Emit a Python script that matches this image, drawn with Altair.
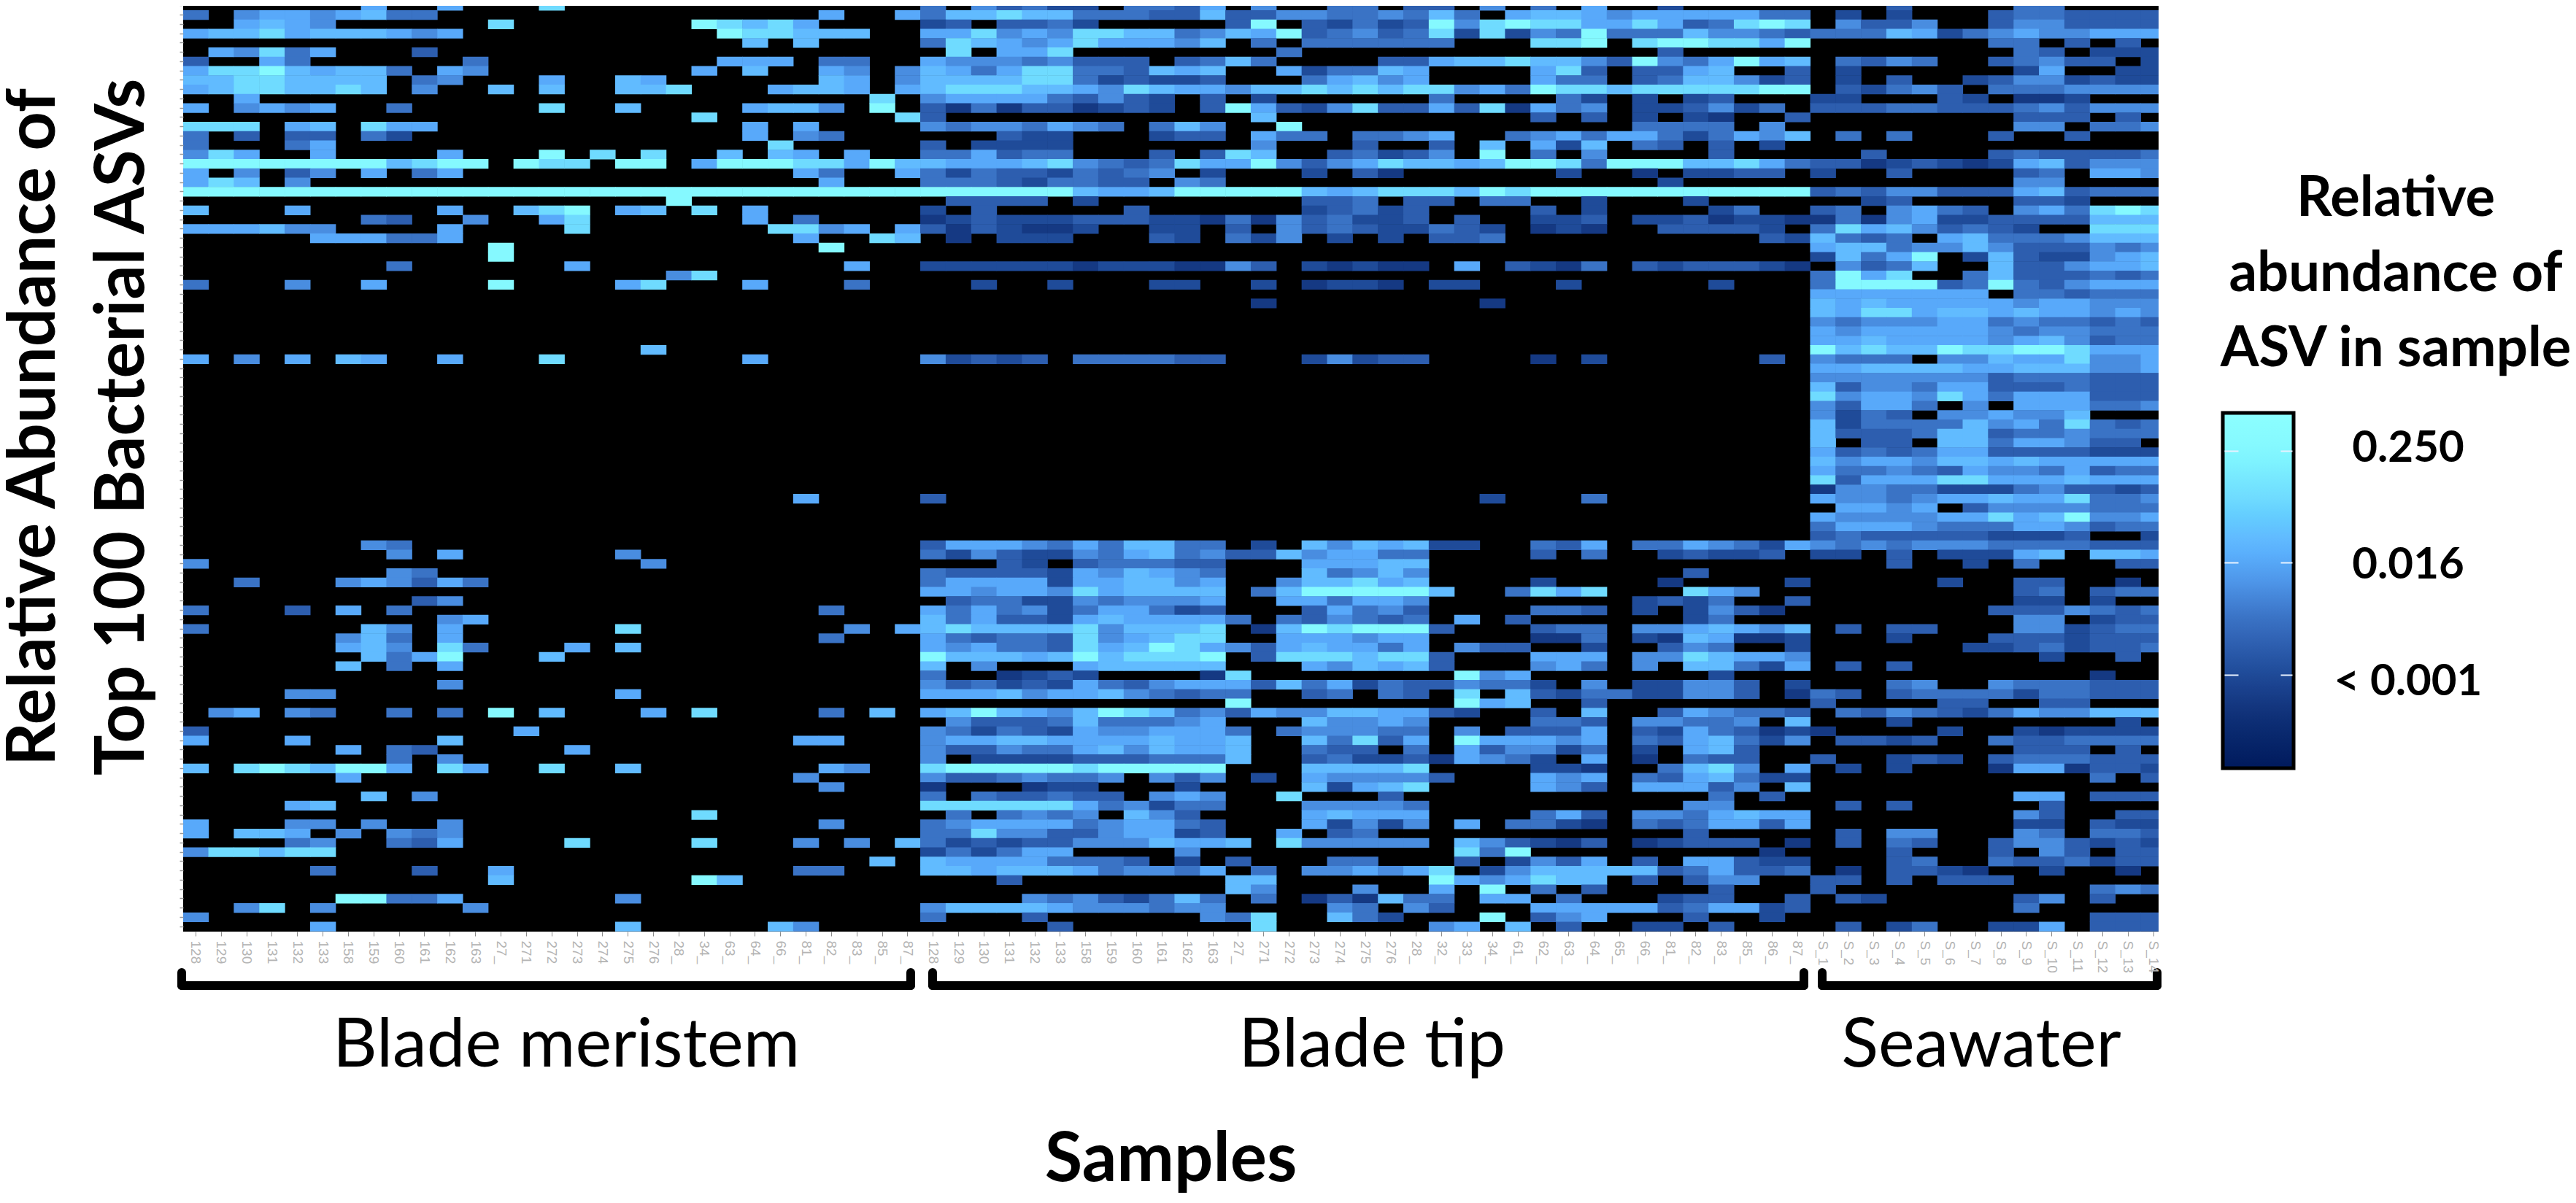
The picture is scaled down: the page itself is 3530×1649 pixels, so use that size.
import altair as alt
import pandas as pd

# Brightness class of every cell: 0 = not detected (black), 1 darkest .. 9 brightest.
# Four column blocks (20, 20, 20, 18 samples), each split into rows 0-49 and 50-99.
A_TOP = [
"00000006006000800000","40566567440000000000","00676500000080000000","67786777656000000000","",
"06584600030000000000","30064000000400000000","68897677406500000000","77887777045000600760","67887787050070700778",
"00600000000000000000","60565600400000800700","","88806708660000000000","40303304200000000000",
"40004600000000000000","58600600006000908080","99999999789909880990","60503506046000000000","68705000000000000000",
"99999999999999999999","00000000000000000009","70006000006007890670","00000004300500680000","66675500006000080000",
"00000666446000000000","00000000000090000000","00000000000090000000","00000000400000060000","00000000000000000005",
"40005006000090000680",*[""]*6,"0000000000000000007",
"60506076006000800000",*[""]*11,
]
A_BOTTOM = [
*[""]*8,"000000054","000000005060000005","5000000000000000005","0000000054","004000565364","",
"00000000035","400030604","000000000056","400000075060000008","00000057406","000000675084000607",
"000000074690007","00000070406","","00000000005","000055000000000006","","0560540040409070006","",
"30000000000006","60006000007","0000006043000006","00000000405","708987996086008007","0000006","",
"0000000705","000067","","60005505005","60776050545","0000450043600008","588788","","0000040003006",
"0000000000007","","000000994460000005","005805000005","5","000006000000000007",
]
B_TOP = [
"00000000040534220443","00000600647787744433","98786000023033420000","09887770066856588774","00707000048765686665",
"000000000080668","06660440065554533303","60700650576468844376","00000760577778842322","00067760678887765876",
"0000000805666643532","0067750903141331232","8000000083","00606000054554654047","00605400000032200023",
"000800000302222","0707606004463440003","69998869776667854348","0000640064243324345","00000600044432443305",
"99999999999999976679","0000000000333302","806000000203000003","00604000012322233322","00088560631321120022",
"00006008701022200032","000009","","00000060022222212221","8","00600040000200200022",*[""]*7,
"00600000052323044443",*[""]*11,
]
B_BOTTOM = [
*[""]*3,"0000600003",*[""]*4,"00000000036665464774","00000000042532254674","00000000000032034443",
"00000000043333265765","00000000046666266775","00000000066566586777","00000000003442254555","00000400064645246642",
"00000000074633267666","00000050678777785777","00000400064344385678","00000000065644386798","00000000097776797888",
"00000000070500067777","0000000004001232","00000000053423264356","00000000066675667543","",
"80000407067976579874","00000000005333474445","00000000054243265566","00006600056677666676","00000000053354467576",
"00000000050222233344","00000650089999989999","00005000053345445053","00000500010001220002","00000000040433433056",
"00000000088888864524","80000000004045450753","00000500045666645664","00000000044855335662","80005050742323355576",
"00000000024246600005","00000007076666444302","00004400077677764554","9700000000003","",
"00000000000005453247","00000000057777655545","00000000040003","000750000000003",
]
C_TOP = [
"6050044033050406002","73355445474067765666","03903242395898866863","57693453482825494447","70404444440008890899",
"0004000000000000003","47400003367787753954","70062447600006830336","30004675600006440347","65778787885649887888",
"30200000040000420202","39632583363816450223","00700000000003030202","50090000000000000444","30644044560045646642",
"0050003003070627043","3870034235090405","66953568776799849997","20002031000000200102","4000000000000000002",
"99997678887989999999","00003340330440020002","0000234230000302","14153422303002230223","03053432243201210033",
"042502020334","","","15302121106032140323","","002012210220002","","001000000001",*[""]*5,
"3000252330000102",*[""]*11,
]
C_BOTTOM = [
*[""]*3,"0000000000020004",*[""]*4,"40207576722004360446","53375664400003040023","300066677","40007457500000000003",
"6005778670000200001","70479999970048680008","60066466500000000232","30003645300004430202","64043543406030000002",
"80179899930003440556","80066656600001140217","65367664605330020035","90388878830006660558","70006576730005640507",
"1800000000956","66374624335442050225","44003404308073244225","0900000000967003","53655776632003070036",
"60007556500004430554","64045554405033360326","67007483609666560436","67004330406355240206","47003422316542060104",
"90007777800002210047","50206555530006560436","00007267800006530666","50080003","40005555400000000005",
"00006766600004630554","30006252506044210434","30060340000000000003","67085555507532130123","0000000000849",
"03000440003025360306","60405565680257777734","07700000096568770303","0750005006090403","40401317440660400023",
"50000540530006666634","54800742000903560003","0080000005607030022",
]
D_TOP = [
"00000003000044","664402020003443333","489805335003553333","554344476245655666","88690000000440303",
"000000000000430222","696704354003453302","700302000000260022","752302030023552322","889903245304445555",
"300022000320112","524033344333453555","10030000000033303","405000000000550445","465704040003003",
"302","300000300003433334","786433123212673555","233020030000340665","00000000000055",
"999934355333673444","000000230000332","240034056430564898","122114156223333777","332048675343200888",
"003274340674445777","000067745575333545","000027469027322567","332105347007335667","000049680047333434",
"200049999349435666","000066666660443444","000076766666566555","000076886776766565","000054555664544343",
"000065666665455444","000066766665675344","000097877988998666","003054440557668556","000066777766777556",
"000055555553444333","000073554663334333","000085665864666333","000053664050666445","000052430556557",
"000072444475648434","000073334773445444","00007033077466533","000063434663333222","000075665776766666",
]
D_BOTTOM = [
"000064454365546344","000083666886667666","000015544222453323","000065545667668445","000006656035555444",
"000065555668679556","000046665444665344","000034333332223002","542654545554444333","223022030222670776",
"000000030020400033","","00020000020033001","650000000000340344","4003000000002202",
"531000000003335434","400000000000550233","765703033000552344","611200020003332333","400200000022342334",
"76650000000002003","74260303","2000000000000001","530200045005444333","530143034444244333",
"000030000330033","544304354324655777","45070002000000002","431210000200212222","742503323004334444",
"73000000000033303","330030023203444333","850602020001661332","742200000000000403","3507",
"403000000000660333","50000303000003","676600000000530033","663600000000220322","000003055000540443",
"330103043003553232","001000030003053033","632200034004334233","63340103321002001","550033030333",
"300030000000000454","3003032000003503","6623000000004","002000000000000333","300003024002260333",
]
BLOCK_WIDTHS = [20, 20, 20, 18]
BLOCKS = [A_TOP + A_BOTTOM, B_TOP + B_BOTTOM, C_TOP + C_BOTTOM, D_TOP + D_BOTTOM]
for name, part in [("A_TOP", A_TOP), ("A_BOTTOM", A_BOTTOM), ("B_TOP", B_TOP), ("B_BOTTOM", B_BOTTOM),
                   ("C_TOP", C_TOP), ("C_BOTTOM", C_BOTTOM), ("D_TOP", D_TOP), ("D_BOTTOM", D_BOTTOM)]:
    assert len(part) == 50, (name, len(part))

# Abundance represented by each brightness class (classes 1..9).
CLASS_ABUNDANCE = [0.0005, 0.001, 0.002, 0.004, 0.008, 0.016, 0.03, 0.08, 0.30]

SAMPLE_LABELS = [
 "128","129","130","131","132","133","158","159","160","161","162","163","27_","271","272","273","274","275","276",
 "28_","34_","63_","64_","66_","81_","82_","83_","85_","87_",
 "128","129","130","131","132","133","158","159","160","161","162","163","27_","271","272","273","274","275","276",
 "28_","32_","33_","34_","61_","62_","63_","64_","65_","66_","81_","82_","83_","85_","86_","87_",
 "S_1","S_2","S_3","S_4","S_5","S_6","S_7","S_8","S_9","S_10","S_11","S_12","S_13","S_14",
]
GROUP_NAMES = ["Blade meristem", "Blade tip", "Seawater"]
LEGEND_TITLE = ["Relative", "abundance of", "ASV in sample"]
LEGEND_LABELS = ["0.250", "0.016", "< 0.001"]
Y_TITLE = ["Relative Abundance of", "Top 100 Bacterial ASVs"]
X_TITLE = "Samples"
LEGEND_BREAKS = [1 / 1024, 1 / 64, 1 / 4]

SCALE_STOPS = [2**-13.4, 2**-11.5, 2**-10, 2**-8, 2**-6, 2**-5, 2**-3.6, 2**-2, 2**-0.56]
SCALE_COLORS = ["#001a5c", "#0f3078", "#1f4a98", "#3a72c4", "#58a8fa", "#62bcff", "#70dcff", "#84f8ff", "#8cffff"]

# ---- page geometry (page coordinates of the reference)
FONT = "Lato"
LEFT, TOP = 251, 8
W, H = 2707, 1269
COL_W, ROW_H, ROW0 = 34.84, 12.75, -6.5

records = []
for r in range(100):
    row = ""
    for blk, wid in zip(BLOCKS, BLOCK_WIDTHS):
        row += blk[r].ljust(wid, "0")[:wid]
    for c, ch in enumerate(row):
        if ch != "0":
            records.append({"sample": c, "asv": r, "abundance": CLASS_ABUNDANCE[int(ch) - 1]})
cells_df = pd.DataFrame(records)

color_scale = alt.Scale(type="log", domain=SCALE_STOPS, range=SCALE_COLORS, clamp=True)
label_js = "[" + ",".join("'%s'" % s for s in SAMPLE_LABELS) + "][datum.value]"

cells = alt.Chart(cells_df).mark_rect(clip=True, width=COL_W + 0.6, height=ROW_H + 0.6).encode(
    x=alt.X("sample:O",
            scale=alt.Scale(domain=list(range(78)), range=[0, COL_W * 78], paddingInner=0, paddingOuter=0),
            axis=alt.Axis(title=X_TITLE, domain=False, tickColor="#8a8a8a", tickSize=6, tickWidth=1,
                          labelExpr=label_js, labelAngle=90, labelFontSize=19, labelFont="Liberation Sans",
                          labelColor="#b4b4b4", labelPadding=6, labelOverlap=False, labelBound=False,
                          labelFlush=False,
                          titleFont=FONT, titleFontWeight="bold", titleFontSize=94, titleColor="black",
                          titleX=1604 - LEFT, titleY=1590 - TOP - H, titleBaseline="middle", titleAlign="center")),
    y=alt.Y("asv:O",
            scale=alt.Scale(domain=list(range(100)), range=[ROW0, ROW0 + ROW_H * 100], paddingInner=0, paddingOuter=0),
            axis=alt.Axis(title=Y_TITLE, domain=False, labels=False, tickColor="#9a9a9a", tickSize=5, tickWidth=1.5,
                          titleFont=FONT, titleFontWeight="bold", titleFontSize=93, titleColor="black",
                          titleLineHeight=122, titleX=46 - LEFT, titleY=585 - TOP, titleAlign="center",
                          titleBaseline="middle", titleAngle=270)),
    color=alt.Color("abundance:Q", scale=color_scale,
                    legend=alt.Legend(
                        orient="none", legendX=3046 - LEFT, legendY=566 - TOP,
                        title=None,
                        type="gradient", direction="vertical", gradientLength=487, gradientThickness=97,
                        gradientStrokeColor="black", gradientStrokeWidth=5,
                        values=LEGEND_BREAKS, labelOverlap=False, labelExpr="''", labelFontSize=1)),
)


def at(px):
    return alt.value(px - LEFT)


def aty(py):
    return alt.value(py - TOP)


def text(label, cx, cy, size, weight="normal"):
    return alt.Chart(alt.Data(values=[{"label": label}])).mark_text(
        font=FONT, fontSize=size, fontWeight=weight, color="black", align="center", baseline="middle"
    ).encode(x=at(cx), y=aty(cy), text="label:N")


def rule(x1, x2, y1, y2, color="black", width=12, cap="round"):
    return alt.Chart(alt.Data(values=[{"k": 0}])).mark_rule(color=color, strokeWidth=width, strokeCap=cap).encode(
        x=at(x1), x2=at(x2), y=aty(y1), y2=aty(y2))


layers = [cells]
for lab, cx in zip(GROUP_NAMES, [776, 1880, 2715]):
    layers.append(text(lab, cx, 1434, 94))
for lab, cy in zip(LEGEND_TITLE, [273, 376, 479]):
    layers.append(text(lab, 3283, cy, 76, "bold"))
for lab, cy in zip(LEGEND_LABELS, [615, 775, 935]):
    layers.append(text(lab, 3300, cy, 60, "bold"))
for x0, x1 in [(249, 1248), (1278, 2472), (2497, 2956)]:
    layers.append(rule(x0, x1, 1351, 1351))
    layers.append(rule(x0, x0, 1333, 1351))
    layers.append(rule(x1, x1, 1333, 1351))

# The pale break marks inside the colour bar: a ticks-only axis that sits on top of the legend.
bar_ticks = alt.Chart(pd.DataFrame({"abundance": LEGEND_BREAKS})).mark_point(opacity=0).encode(
    x=alt.value(0),
    y=alt.Y("abundance:Q",
            scale=alt.Scale(type="log", domain=[2**-13.4, 2**-0.56], range=[1055 - TOP, 563 - TOP]),
            axis=alt.Axis(orient="right", title=None, labels=False, domain=False, grid=False, zindex=1,
                          values=LEGEND_BREAKS, offset=3048 - LEFT - W, tickSize=93, tickWidth=2,
                          tickColor="#e8f2ff", tickDash=[19, 58, 16])),
)
layers.append(bar_ticks)

chart = alt.layer(*layers).resolve_scale(x="shared", y="independent").properties(
    width=W, height=H,
    padding={"left": LEFT - 8, "top": 0, "right": 3514 - (LEFT - 8) - W, "bottom": 1633 - H},
    autosize=alt.AutoSizeParams(type="none"),
    background="white",
).configure_view(fill="black", stroke=None)

chart.save("out.html", embed_options={"renderer": "svg", "actions": False})
